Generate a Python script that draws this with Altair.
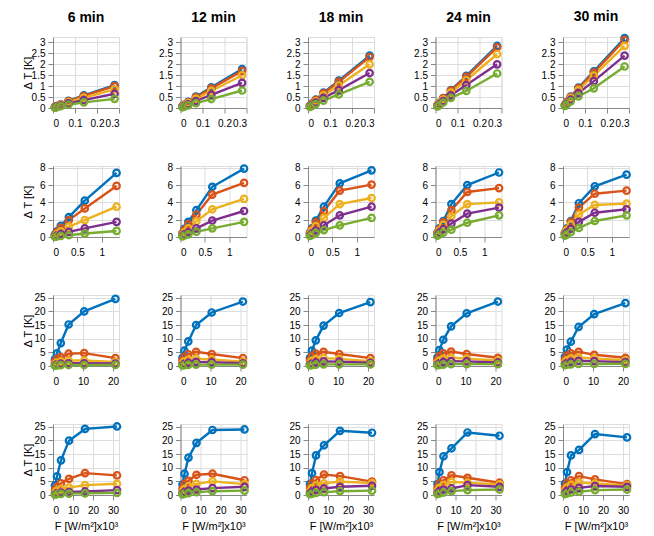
import altair as alt
import pandas as pd

titles = ["6 min", "12 min", "18 min", "24 min", "30 min"]
series_names = ["S1", "S2", "S3", "S4", "S5"]
series_colors = ["#0072BD", "#D95319", "#EDB120", "#7E2F8E", "#77AC30"]

# x positions per row
x_r1 = [0.009, 0.0175, 0.035, 0.07, 0.14, 0.28]
x_r2 = [0.04, 0.08, 0.16, 0.325, 0.65, 1.3]
x_r3 = [0.65, 1.3, 2.6, 5.2, 10.4, 20.8]
x_r4 = [1, 2, 4, 8, 16, 32]

# row 1 : [blue, orange, yellow, purple, green]
r1_06 = [[0.05, 0.09, 0.17, 0.33, 0.58, 1.05],
         [0.05, 0.09, 0.16, 0.31, 0.55, 1.00],
         [0.04, 0.08, 0.14, 0.27, 0.47, 0.85],
         [0.03, 0.06, 0.11, 0.21, 0.36, 0.65],
         [0.02, 0.04, 0.08, 0.15, 0.26, 0.42]]
r1_12 = [[0.08, 0.15, 0.28, 0.52, 0.95, 1.78],
         [0.08, 0.14, 0.26, 0.49, 0.90, 1.70],
         [0.07, 0.12, 0.23, 0.42, 0.78, 1.50],
         [0.05, 0.09, 0.17, 0.32, 0.60, 1.15],
         [0.04, 0.07, 0.12, 0.22, 0.41, 0.80]]
r1_18 = [[0.11, 0.20, 0.38, 0.70, 1.25, 2.40],
         [0.10, 0.19, 0.36, 0.67, 1.20, 2.33],
         [0.09, 0.16, 0.31, 0.58, 1.03, 2.00],
         [0.07, 0.13, 0.25, 0.46, 0.82, 1.60],
         [0.05, 0.10, 0.18, 0.34, 0.62, 1.20]]
r1_24 = [[0.13, 0.24, 0.45, 0.82, 1.47, 2.84],
         [0.13, 0.23, 0.44, 0.80, 1.43, 2.78],
         [0.11, 0.20, 0.39, 0.71, 1.27, 2.46],
         [0.09, 0.17, 0.32, 0.58, 1.05, 2.00],
         [0.07, 0.13, 0.25, 0.46, 0.78, 1.58]]
r1_30 = [[0.15, 0.28, 0.52, 0.93, 1.68, 3.20],
         [0.14, 0.27, 0.50, 0.90, 1.62, 3.12],
         [0.13, 0.24, 0.45, 0.82, 1.48, 2.84],
         [0.11, 0.20, 0.38, 0.68, 1.23, 2.40],
         [0.09, 0.16, 0.30, 0.53, 0.90, 1.90]]

# row 2
r2_06 = [[0.30, 0.65, 1.30, 2.30, 4.20, 7.40],
         [0.25, 0.55, 1.10, 1.95, 3.30, 5.90],
         [0.15, 0.35, 0.65, 1.20, 1.95, 3.50],
         [0.08, 0.18, 0.35, 0.60, 1.00, 1.75],
         [0.03, 0.07, 0.12, 0.20, 0.40, 0.70]]
r2_12 = [[0.45, 0.95, 1.75, 3.10, 5.80, 7.90],
         [0.40, 0.80, 1.50, 2.60, 4.90, 6.25],
         [0.25, 0.55, 1.00, 1.80, 3.20, 4.40],
         [0.15, 0.30, 0.55, 1.00, 1.90, 3.00],
         [0.08, 0.17, 0.30, 0.60, 1.00, 1.75]]
r2_18 = [[0.50, 1.00, 1.90, 3.50, 6.20, 7.70],
         [0.45, 0.90, 1.70, 3.00, 5.35, 6.05],
         [0.35, 0.70, 1.25, 2.20, 3.80, 4.50],
         [0.20, 0.40, 0.75, 1.35, 2.50, 3.50],
         [0.12, 0.25, 0.45, 0.80, 1.35, 2.20]]
r2_24 = [[0.50, 1.00, 1.85, 3.80, 6.00, 7.45],
         [0.45, 0.90, 1.70, 3.10, 5.20, 5.65],
         [0.40, 0.75, 1.40, 2.40, 3.80, 4.00],
         [0.25, 0.50, 0.90, 1.55, 2.70, 3.40],
         [0.15, 0.30, 0.50, 0.85, 1.65, 2.50]]
r2_30 = [[0.50, 1.00, 1.85, 3.90, 5.85, 7.20],
         [0.45, 0.90, 1.75, 3.40, 5.00, 5.35],
         [0.40, 0.80, 1.45, 2.60, 3.70, 3.85],
         [0.25, 0.50, 0.95, 1.75, 2.80, 3.20],
         [0.15, 0.30, 0.55, 1.05, 1.85, 2.50]]

# row 3
r3_06 = [[2.5, 4.6, 8.4, 15.2, 20.0, 24.6],
         [1.5, 2.6, 3.3, 4.5, 4.7, 2.9],
         [0.8, 1.3, 1.7, 2.0, 2.0, 1.5],
         [0.4, 0.6, 0.8, 1.0, 1.0, 0.9],
         [0.15, 0.25, 0.3, 0.35, 0.35, 0.4]]
r3_12 = [[3.0, 5.6, 9.0, 15.0, 19.6, 23.6],
         [2.0, 3.3, 4.3, 5.2, 4.4, 2.9],
         [1.0, 1.7, 2.3, 2.7, 2.4, 1.6],
         [0.5, 0.8, 1.2, 1.5, 1.4, 1.0],
         [0.2, 0.3, 0.4, 0.5, 0.5, 0.5]]
r3_18 = [[3.0, 5.6, 9.4, 14.8, 19.4, 23.4],
         [2.1, 3.5, 4.5, 5.2, 4.4, 2.9],
         [1.1, 1.9, 2.5, 2.9, 2.6, 1.8],
         [0.6, 0.9, 1.3, 1.7, 1.6, 1.2],
         [0.25, 0.35, 0.45, 0.6, 0.6, 0.6]]
r3_24 = [[3.2, 5.8, 9.6, 14.5, 19.3, 23.6],
         [2.2, 3.6, 4.6, 5.3, 4.4, 3.0],
         [1.2, 2.0, 2.6, 3.0, 2.7, 2.0],
         [0.6, 1.0, 1.4, 1.8, 1.7, 1.3],
         [0.3, 0.4, 0.5, 0.7, 0.7, 0.7]]
r3_30 = [[3.4, 6.0, 8.9, 14.3, 19.0, 23.0],
         [2.3, 3.7, 4.6, 5.2, 4.1, 3.0],
         [1.3, 2.1, 2.7, 3.1, 2.8, 2.1],
         [0.7, 1.1, 1.5, 1.9, 1.8, 1.4],
         [0.3, 0.45, 0.55, 0.75, 0.75, 0.8]]

# row 4
r4_06 = [[3.5, 6.8, 12.7, 19.9, 24.2, 25.1],
         [1.8, 3.0, 4.3, 5.9, 8.0, 7.2],
         [0.9, 1.6, 2.2, 2.7, 3.6, 4.1],
         [0.4, 0.7, 0.9, 1.1, 1.3, 1.8],
         [0.15, 0.3, 0.4, 0.5, 0.6, 0.8]]
r4_12 = [[3.8, 7.8, 13.7, 19.1, 23.8, 24.0],
         [2.3, 4.0, 5.2, 7.4, 7.8, 5.4],
         [1.2, 2.2, 3.2, 4.1, 5.0, 4.0],
         [0.6, 1.1, 1.6, 2.0, 2.5, 3.0],
         [0.25, 0.5, 0.7, 1.0, 1.4, 1.6]]
r4_18 = [[4.0, 8.0, 14.5, 18.2, 23.5, 22.8],
         [2.5, 4.2, 5.5, 7.5, 6.9, 4.9],
         [1.4, 2.5, 3.5, 4.3, 4.9, 4.4],
         [0.7, 1.3, 1.9, 2.4, 3.0, 3.4],
         [0.3, 0.5, 0.8, 1.0, 1.4, 1.6]]
r4_24 = [[4.0, 8.4, 14.2, 17.1, 22.9, 21.7],
         [2.6, 4.3, 5.4, 7.2, 6.3, 4.5],
         [1.5, 2.6, 3.6, 4.8, 4.5, 3.9],
         [0.8, 1.4, 2.0, 2.4, 3.6, 3.0],
         [0.35, 0.6, 0.9, 1.4, 1.8, 2.0]]
r4_30 = [[4.2, 8.4, 14.5, 16.5, 22.3, 21.1],
         [2.6, 4.4, 5.4, 6.9, 5.7, 4.0],
         [1.5, 2.7, 3.7, 4.6, 4.2, 3.5],
         [0.8, 1.5, 2.1, 2.6, 3.3, 3.0],
         [0.35, 0.6, 0.9, 1.2, 1.8, 2.0]]

rows = [
    dict(x=x_r1, panels=[r1_06, r1_12, r1_18, r1_24, r1_30], xdom=[0, 0.3],
         xticks=[0, 0.1, 0.2, 0.3], ydom=[0, 3.25], yticks=[0, 0.5, 1, 1.5, 2, 2.5, 3]),
    dict(x=x_r2, panels=[r2_06, r2_12, r2_18, r2_24, r2_30], xdom=[0, 1.35],
         xticks=[0, 0.5, 1], ydom=[0, 8.2], yticks=[0, 2, 4, 6, 8]),
    dict(x=x_r3, panels=[r3_06, r3_12, r3_18, r3_24, r3_30], xdom=[0, 22],
         xticks=[0, 10, 20], ydom=[0, 26], yticks=[0, 5, 10, 15, 20, 25]),
    dict(x=x_r4, panels=[r4_06, r4_12, r4_18, r4_24, r4_30], xdom=[0, 33],
         xticks=[0, 10, 20, 30], ydom=[0, 26], yticks=[0, 5, 10, 15, 20, 25]),
]

# title offsets (last panel's top marker pokes above the frame)
title_offsets = [12, 12, 12, 12, 6]

W, H = 66, 71
FONT = "Liberation Sans"
TXT = "#262626"

panels = []
for ri, row in enumerate(rows):
    for ci, vals in enumerate(row["panels"]):
        recs = []
        for si, name in enumerate(series_names):
            for k, xv in enumerate(row["x"]):
                recs.append({"x": xv, "y": vals[si][k], "s": name})
        df = pd.DataFrame(recs)

        x_axis = alt.Axis(values=row["xticks"], format="~f", labelPadding=5,
                          title=("F [W/m²]x10³" if ri == 3 else None),
                          titlePadding=5, titleFontWeight="normal")
        if ci == 0:
            y_axis = alt.Axis(values=row["yticks"], format="~f", labelPadding=3,
                              title="Δ T [K]", titleX=-20, titleY=H / 2,
                              titleFontWeight="normal")
        else:
            y_axis = alt.Axis(values=row["yticks"], format="~f", labelPadding=3, title=None)

        base = alt.Chart(df).encode(
            x=alt.X("x:Q", scale=alt.Scale(domain=row["xdom"], nice=False, zero=False), axis=x_axis),
            y=alt.Y("y:Q", scale=alt.Scale(domain=row["ydom"], nice=False, zero=False), axis=y_axis),
            color=alt.Color("s:N", scale=alt.Scale(domain=series_names, range=series_colors), legend=None),
            order=alt.Order("x:Q"),
        )
        line = base.mark_line(strokeWidth=2.4)
        pts = base.mark_point(shape="circle", filled=False, size=42, strokeWidth=2.2, opacity=1)
        ch = alt.layer(line, pts).properties(width=W, height=H)
        if ri == 0:
            ch = ch.properties(title=alt.TitleParams(titles[ci], fontWeight="bold", fontSize=14,
                                                     font=FONT, offset=title_offsets[ci],
                                                     frame="group", color="#000000"))
        panels.append(ch)

chart = alt.concat(*panels, columns=5, spacing={"row": 58, "column": 61.5}, bounds="flush").properties(
    padding={"left": 13, "top": 1, "right": 5, "bottom": 0}
).configure_view(
    stroke="#808080", strokeWidth=1
).configure_axis(
    domain=False, ticks=False,
    labelFont=FONT, labelFontSize=14, labelColor=TXT,
    labelOverlap=False, labelFlush=False, labelBound=False,
    gridColor="#e3e3e3", gridWidth=1,
    titleFont=FONT, titleFontSize=14, titleFontWeight="normal", titleColor=TXT,
).configure(background="white")

chart.save("out.html", embed_options={"renderer": "svg", "actions": False})
